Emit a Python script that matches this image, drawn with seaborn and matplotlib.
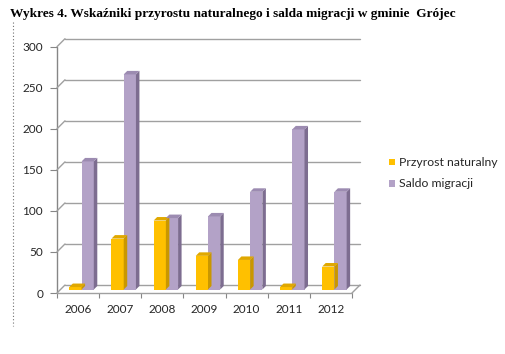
import matplotlib
matplotlib.use("Agg")
import matplotlib.pyplot as plt
import seaborn as sns
import pandas as pd
from matplotlib.patches import Polygon, Rectangle
from matplotlib.lines import Line2D
from matplotlib.transforms import ScaledTranslation, IdentityTransform

# ---- data ----
years = ["2006", "2007", "2008", "2009", "2010", "2011", "2012"]
przyrost = [3, 62, 84, 41, 36, 3, 28]
saldo = [156, 262, 87, 89, 119, 195, 119]
series_names = ["Przyrost naturalny", "Saldo migracji"]
y_ticks = [0, 50, 100, 150, 200, 250, 300]
title = "Wykres 4. Wskaźniki przyrostu naturalnego i salda migracji w gminie  Grójec"

df = pd.DataFrame({
    "Rok": years * 2,
    "Wartość": przyrost + saldo,
    "Seria": [series_names[0]] * len(years) + [series_names[1]] * len(years),
})

# ---- style ----
sns.set_style("white")
plt.rcParams["font.family"] = ["Lato", "DejaVu Sans"]

W, H = 505, 354
fig = plt.figure(figsize=(W / 100, H / 100), dpi=100)
fig.patch.set_facecolor("white")

x0, x1 = 57, 352
y0, y300 = 293, 46.7
ax = fig.add_axes([x0 / W, (H - y0) / H, (x1 - x0) / W, (y0 - y300) / H])
ax.set_facecolor("none")

c_or, c_pu = "#FFC000", "#B3A2C7"
c_or_side, c_pu_side = "#C99700", "#7D6D90"
c_or_top, c_pu_top = "#E0A800", "#9C8BB1"
grid_c = "#A0A0A0"

sns.barplot(data=df, x="Rok", y="Wartość", hue="Seria", order=years,
            hue_order=series_names, palette=[c_or, c_pu], width=0.58,
            saturation=1, ax=ax, legend=False, edgecolor="none", linewidth=0)

ax.set_xlim(-0.5, 6.5)
ax.set_ylim(0, 300)
for s in ax.spines.values():
    s.set_visible(False)
ax.set_xlabel("")
ax.set_ylabel("")

# ticks
ax.set_yticks(y_ticks)
ax.set_yticklabels([str(v) for v in y_ticks])
ax.tick_params(axis="y", length=5, width=0.8, color="#868686", pad=5,
               labelsize=8.5, labelcolor="#262626", left=True)
ax.set_xticks(range(len(years)))
ax.set_xticklabels(years)
ax.set_xticks([i - 0.5 for i in range(len(years) + 1)], minor=True)
ax.tick_params(axis="x", which="major", length=0, pad=8, labelsize=8.5,
               labelcolor="#262626")
ax.tick_params(axis="x", which="minor", length=3.5, width=0.8,
               color="#868686", bottom=True)

# ---- pseudo-3D walls ----
d_wall = 8
off_wall = ScaledTranslation(d_wall / 100, d_wall / 100, fig.dpi_scale_trans)
idt = IdentityTransform()
for v in y_ticks:
    ax.plot([-0.5, 6.5], [v, v], transform=ax.transData + off_wall,
            color=grid_c, lw=1.0, clip_on=False, zorder=0.5)
    px, py = ax.transData.transform((-0.5, v))
    fig.add_artist(Line2D([px, px + d_wall], [py, py + d_wall],
                          transform=idt, color=grid_c, lw=1.0, zorder=0.5))
# front axis line and floor front edge
ax.plot([-0.5, -0.5], [0, 300], color="#868686", lw=1.0, clip_on=False, zorder=1)
ax.plot([-0.5, 6.5], [0, 0], color=grid_c, lw=1.0, clip_on=False, zorder=1)
px, py = ax.transData.transform((6.5, 0))
fig.add_artist(Line2D([px, px + d_wall], [py, py + d_wall],
                      transform=idt, color=grid_c, lw=1.0, zorder=0.5))

# ---- pseudo-3D bars ----
d_bar = 3.5
off_bar = ScaledTranslation(d_bar / 100, d_bar / 100, fig.dpi_scale_trans)
tr_bar = ax.transData + off_bar
n = len(years)
bars = list(ax.patches)
for k, p in enumerate(bars):
    is_or = k < n
    z = 2 if is_or else 3
    p.set_transform(tr_bar)
    p.set_zorder(z)
    bx, bw, bh = p.get_x(), p.get_width(), p.get_height()
    (xl, yb), (xr, yt) = tr_bar.transform([(bx, 0), (bx + bw, bh)])
    dd = d_bar
    side = Polygon([(xr, yb), (xr + dd, yb + dd), (xr + dd, yt + dd), (xr, yt)],
                   closed=True, transform=idt,
                   facecolor=c_or_side if is_or else c_pu_side,
                   edgecolor="none", zorder=z)
    top = Polygon([(xl, yt), (xl + dd, yt + dd), (xr + dd, yt + dd), (xr, yt)],
                  closed=True, transform=idt,
                  facecolor=c_or_top if is_or else c_pu_top,
                  edgecolor="none", zorder=z)
    fig.add_artist(side)
    fig.add_artist(top)

# ---- legend ----
leg_items = [(series_names[0], c_or, 162.2), (series_names[1], c_pu, 183.4)]
for name, col, yc in leg_items:
    fig.add_artist(Rectangle((388.5, H - yc - 3.1), 6.2, 6.2, transform=idt,
                             facecolor=col, edgecolor="none"))
    fig.text(399 / W, (H - yc) / H, name, fontsize=8.8, color="#262626",
             va="center", ha="left")

# ---- title and dotted left rule ----
fig.text(10 / W, (H - 16.5) / H, title, fontsize=9.6, fontweight="bold",
         family=["Liberation Serif", "DejaVu Serif"], va="baseline", ha="left",
         color="black")
fig.add_artist(Line2D([12.5, 12.5], [H - 22, H - 326], transform=idt,
                      color="#707070", lw=0.8, linestyle=(0, (1, 2))))

fig.savefig("out.png", dpi=100)
